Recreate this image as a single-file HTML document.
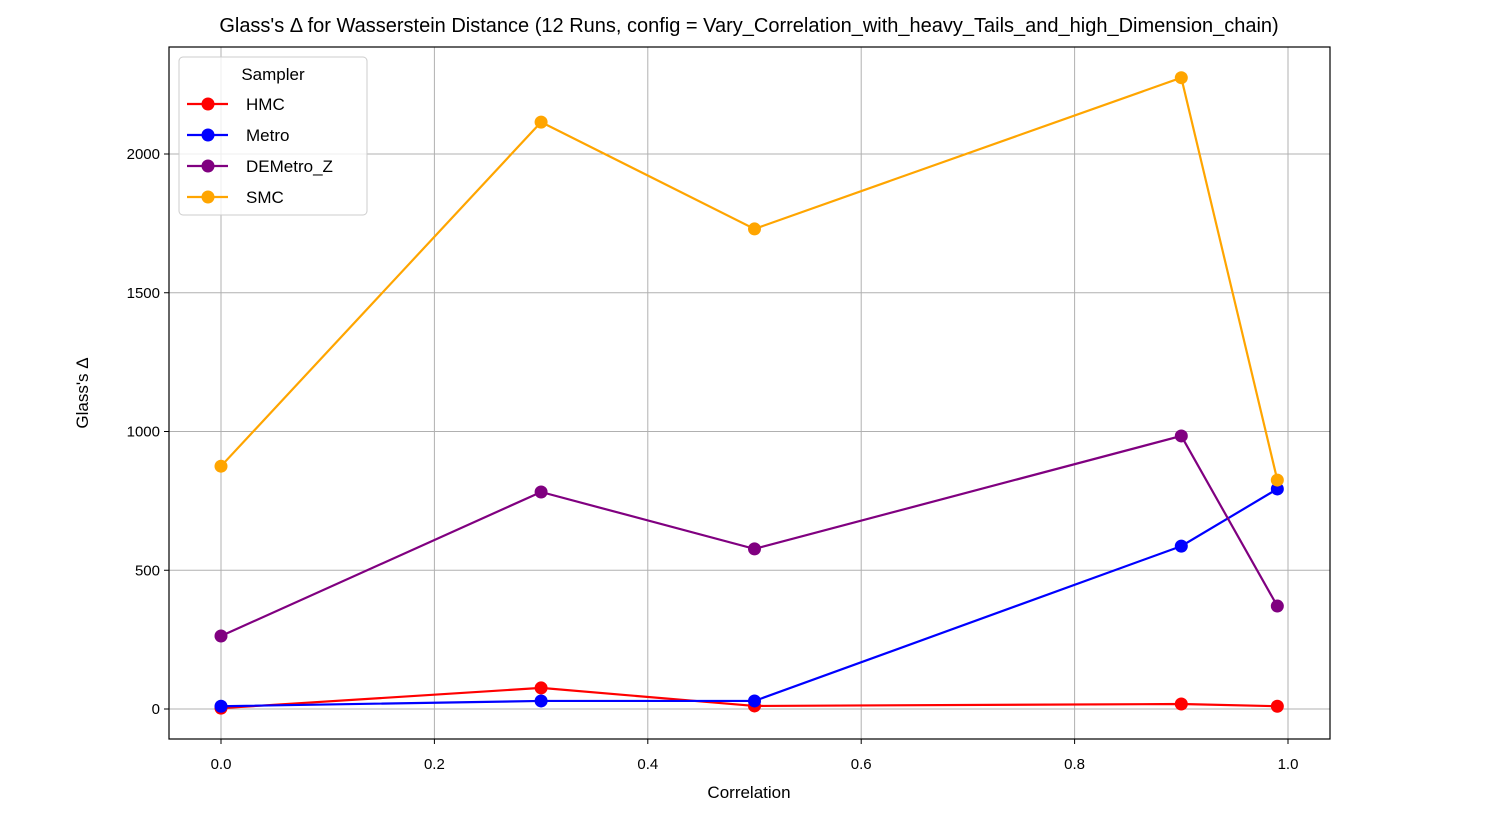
<!DOCTYPE html>
<html><head><meta charset="utf-8"><style>
body{margin:0;background:#fff;}
svg{display:block;font-family:"Liberation Sans","DejaVu Sans",sans-serif;}
</style></head><body>
<svg id="chart" width="1499" height="817"></svg>
<script>
const categories=[0,0.3,0.5,0.9,0.99];
const hmcValues=[3,76,11,18,10];
const metroValues=[10,29,29,587,793];
const demetroValues=[263,782,577,984,371];
const smcValues=[875,2115,1730,2275,825];
const xTickLabels=["0.0","0.2","0.4","0.6","0.8","1.0"];
const xTicks=[0,0.2,0.4,0.6,0.8,1.0];
const yTicks=[0,500,1000,1500,2000];
const seriesNames=["HMC","Metro","DEMetro_Z","SMC"];
const seriesColors=["red","blue","purple","orange"];
const allSeries=[hmcValues,metroValues,demetroValues,smcValues];

const L=169,R=1330,T=47,B=739;
const xS=v=>221+v*1067;
const yS=v=>709-v*0.2775;
const NS="http://www.w3.org/2000/svg";
const svg=document.getElementById('chart');
function mk(tag,attrs,parent){const e=document.createElementNS(NS,tag);for(const k in attrs)e.setAttribute(k,attrs[k]);(parent||svg).appendChild(e);return e;}

xTicks.forEach((t,i)=>{
  const g=mk('line',{x1:xS(t),x2:xS(t),y1:T,y2:B,stroke:'#b0b0b0','stroke-width':1});
  
  
  mk('line',{x1:xS(t),x2:xS(t),y1:B,y2:B+5,stroke:'#000'});
  const tx=mk('text',{x:xS(t),y:B+30,'text-anchor':'middle','font-size':15});
  tx.textContent=xTickLabels[i];
  
  
});
yTicks.forEach(t=>{
  const g=mk('line',{x1:L,x2:R,y1:yS(t),y2:yS(t),stroke:'#b0b0b0','stroke-width':1});
  
  
  mk('line',{x1:L-5,x2:L,y1:yS(t),y2:yS(t),stroke:'#000'});
  const tx=mk('text',{x:L-9,y:yS(t)+5,'text-anchor':'end','font-size':15});
  tx.textContent=String(t);
  
  
});

allSeries.forEach((vals,si)=>{
  const g=mk('g',{});
  
  
  const pts=vals.map((v,i)=>xS(categories[i])+','+yS(v)).join(' ');
  mk('polyline',{points:pts,fill:'none',stroke:seriesColors[si],'stroke-width':2.2},g);
  vals.forEach((v,i)=>{
    const c=mk('circle',{cx:xS(categories[i]),cy:yS(v),r:6.5,fill:seriesColors[si]},g);
    
    
  });
});

const fr=mk('rect',{x:L,y:T,width:R-L,height:B-T,fill:'none',stroke:'#000','stroke-width':1.2});



const title=mk('text',{x:749,y:32,'text-anchor':'middle','font-size':20});
title.textContent="Glass's Δ for Wasserstein Distance (12 Runs, config = Vary_Correlation_with_heavy_Tails_and_high_Dimension_chain)";


const xt=mk('text',{x:749,y:798,'text-anchor':'middle','font-size':17});
xt.textContent="Correlation";


const yt=mk('text',{x:88,y:393,'text-anchor':'middle','font-size':17,transform:'rotate(-90 88 393)'});
yt.textContent="Glass's Δ";



const lg=mk('g',{});


mk('rect',{x:179,y:57,width:188,height:158,rx:4,fill:'#fff','fill-opacity':0.8,stroke:'#ccc'},lg);
const lt=mk('text',{x:273,y:80,'text-anchor':'middle','font-size':17},lg);
lt.textContent="Sampler";
seriesNames.forEach((n,i)=>{
  const y=104+i*31;
  const e=mk('g',{},lg);
  
  
  mk('line',{x1:187,x2:228,y1:y,y2:y,stroke:seriesColors[i],'stroke-width':2.2},e);
  mk('circle',{cx:208,cy:y,r:6.5,fill:seriesColors[i]},e);
  const t=mk('text',{x:246,y:y+6,'font-size':17},e);
  t.textContent=n;
});
</script>
</body></html>
